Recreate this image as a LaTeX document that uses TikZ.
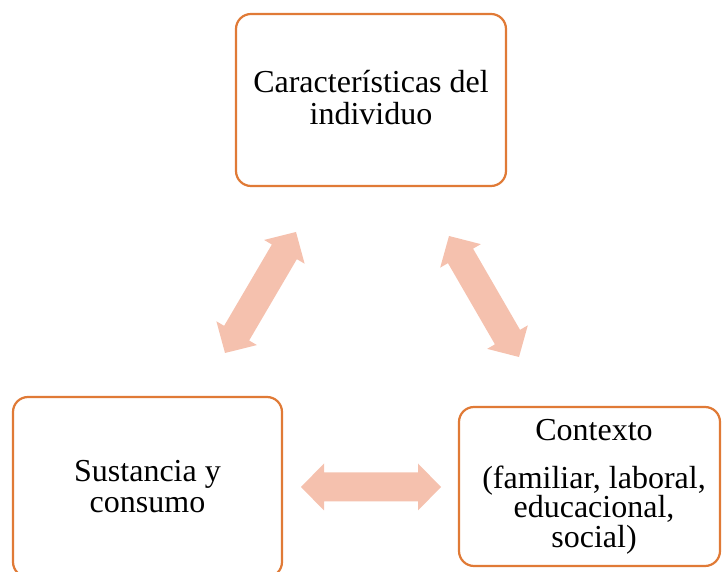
\documentclass[tikz,border=0pt]{standalone}
\usepackage{fontspec}
\setmainfont{Liberation Serif}
\usetikzlibrary{calc}
\definecolor{boxorange}{HTML}{E07A36}
\definecolor{arrowfill}{HTML}{F5C1AE}
\tikzset{
  pics/dblarrow/.style={code={
    \fill[arrowfill] (0,0) -- (23,23.5) -- (23,14.5) -- ({#1-23},14.5) -- ({#1-23},23.5)
      -- ({#1},0) -- ({#1-23},-23.5) -- ({#1-23},-14.5) -- (23,-14.5) -- (23,-23.5) -- cycle;}},
  box/.style={draw=boxorange, line width=2.2pt, rounded corners=15pt, fill=white, inner sep=0pt},
  txt/.style={align=center, inner sep=0pt, font=\fontsize{32}{32}\selectfont}
}
\newcommand\dblarrowbetween[2]{%
  \path let \p1=(#1), \p2=(#2), \n1={atan2(\y2-\y1,\x2-\x1)}, \n2={veclen(\x2-\x1,\y2-\y1)} in
    \pgfextra{\xdef\myarrowangle{\n1}\xdef\myarrowlen{\n2}};
  \pic[rotate=\myarrowangle] at (#1) {dblarrow=\myarrowlen};}
\begin{document}
\begin{tikzpicture}[x=1pt,y=1pt]
\useasboundingbox (0,0) rectangle (723,572);
\node[box, minimum width=270pt, minimum height=172pt] (indiv) at (371,472) {};
\node[txt] (indivtext) at (371,474) {Características del\\individuo};
\node[box, minimum width=269pt, minimum height=180pt] (sust) at (147.5,85) {};
\node[txt, font=\fontsize{32}{31}\selectfont] (susttext) at (147.5,85.3) {Sustancia y\\consumo};
\node[box, minimum width=261pt, minimum height=159pt] (ctx) at (589.5,85.5) {};
\node[txt, font=\fontsize{32}{29.5}\selectfont] (ctxtext) at (594,85.1) {Contexto\\[17.8pt](familiar, laboral,\\educacional,\\social)};
\coordinate (hA) at (301,85);
\coordinate (hB) at (441,85);
\coordinate (lA) at (225,219);
\coordinate (lB) at (296,340);
\coordinate (rA) at (449,336);
\coordinate (rB) at (519,215);
\dblarrowbetween{hA}{hB}
\dblarrowbetween{lA}{lB}
\dblarrowbetween{rA}{rB}
\end{tikzpicture}
\end{document}
